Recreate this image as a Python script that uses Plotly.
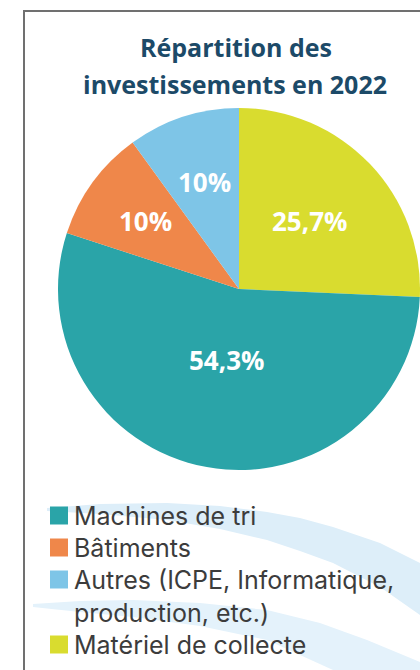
import math
import plotly.graph_objects as go

# ---- data ----
pie_labels = ["Matériel de collecte", "Machines de tri", "Bâtiments",
              "Autres (ICPE, Informatique,<br>production, etc.)"]
pie_values = [25.7, 54.3, 10.0, 10.0]
pie_text = ["25,7%", "54,3%", "10%", "10%"]
pie_colors = ["#D9DC2F", "#2AA4A8", "#EF874A", "#7EC5E7"]
legend_order = [1, 2, 3, 0]
title_lines = ["Répartition des", "investissements en 2022"]

W, H = 420, 670


def px(x):
    return x / W


def py(y):
    return 1 - y / H


# pie geometry (pixels)
PIE_L, PIE_R, PIE_T, PIE_B = 58, 420, 108, 470
CX, CY = (PIE_L + PIE_R) / 2, (PIE_T + PIE_B) / 2
RAD = min(PIE_R - PIE_L, PIE_B - PIE_T) / 2
label_radius_frac = [0.54, 0.40, 0.64, 0.62]

fig = go.Figure()

fig.add_trace(go.Pie(
    labels=pie_labels, values=pie_values, text=pie_text,
    textinfo="none",
    sort=False, direction="clockwise", rotation=0,
    marker=dict(colors=pie_colors, line=dict(width=0)),
    showlegend=False, hoverinfo="label+text",
    domain=dict(x=[px(PIE_L), px(PIE_R)], y=[py(PIE_B), py(PIE_T)]),
))

annotations = []
shapes = []

# slice labels placed at each slice's mid angle
total = sum(pie_values)
cum = 0.0
for v, t, f in zip(pie_values, pie_text, label_radius_frac):
    mid = (cum + v / 2) / total * 2 * math.pi
    cum += v
    lx = CX + f * RAD * math.sin(mid)
    ly = CY - f * RAD * math.cos(mid)
    annotations.append(dict(
        text=t, x=px(lx), y=py(ly), xref="paper", yref="paper",
        showarrow=False, xanchor="center", yanchor="middle",
        font=dict(family="Open Sans", size=26, color="white", weight=700)))


def path_from(points):
    s = "M {},{}".format(px(points[0][0]), py(points[0][1]))
    for (x, y) in points[1:]:
        s += " L {},{}".format(px(x), py(y))
    return s + " Z"


# decorative background waves
wave1 = [(47, 508), (100, 504), (167, 503), (220, 506), (267, 512), (300, 518),
         (333, 527), (380, 543), (420, 563),
         (420, 615), (380, 587), (333, 563), (300, 551), (267, 540), (220, 529),
         (167, 520), (100, 514), (47, 511)]
wave2 = [(33, 604), (80, 601), (133, 600), (200, 603), (267, 610), (320, 623),
         (367, 640), (420, 662), (420, 670),
         (333, 670), (300, 655), (267, 640), (200, 626), (133, 617), (80, 612),
         (33, 607)]
shapes += [
    dict(type="path", xref="paper", yref="paper", path=path_from(wave1),
         fillcolor="#DDEEF9", line=dict(width=0), layer="below"),
    dict(type="path", xref="paper", yref="paper", path=path_from(wave2),
         fillcolor="#E4F2FB", line=dict(width=0), layer="below"),
    dict(type="path", xref="paper", yref="paper",
         path="M {},{} L {},{} L {},{}".format(px(24), 0, px(24), py(11), 1.0, py(11)),
         line=dict(color="#707070", width=2)),
]

# legend (drawn as swatches + text)
LEG_X, SW = 50, 18
LEG_FS = 25
leg_rows = [515.5, 547.5, 579.5, 644.5]
for row_y, i in zip(leg_rows, legend_order):
    shapes.append(dict(type="rect", xref="paper", yref="paper",
                       x0=px(LEG_X), x1=px(LEG_X + SW),
                       y0=py(row_y + SW / 2), y1=py(row_y - SW / 2),
                       fillcolor=pie_colors[i], line=dict(width=0)))
    n_lines = pie_labels[i].count("<br>") + 1
    annotations.append(dict(
        text=pie_labels[i], x=px(LEG_X + SW + 4),
        y=py(row_y + 0.5 + (n_lines - 1) * LEG_FS * 1.3 / 2),
        xref="paper", yref="paper", showarrow=False,
        xanchor="left", yanchor="middle", align="left",
        font=dict(family="Inter", size=LEG_FS, color="#3C3C3C", weight=400)))

# title
for line, ty, tx in zip(title_lines, [47, 84], [236, 235]):
    annotations.append(dict(
        text=line, x=px(tx), y=py(ty), xref="paper", yref="paper",
        showarrow=False, xanchor="center", yanchor="middle",
        font=dict(family="Open Sans", size=25, color="#1C4A68", weight=700)))

fig.update_layout(
    width=W, height=H,
    margin=dict(l=0, r=0, t=0, b=0),
    paper_bgcolor="white", plot_bgcolor="rgba(0,0,0,0)",
    shapes=shapes, annotations=annotations,
    showlegend=False,
)

fig.write_html("out.html", config=dict(displayModeBar=False),
               post_script="document.body.style.margin='0';"
                           "document.body.style.overflow='hidden';")
